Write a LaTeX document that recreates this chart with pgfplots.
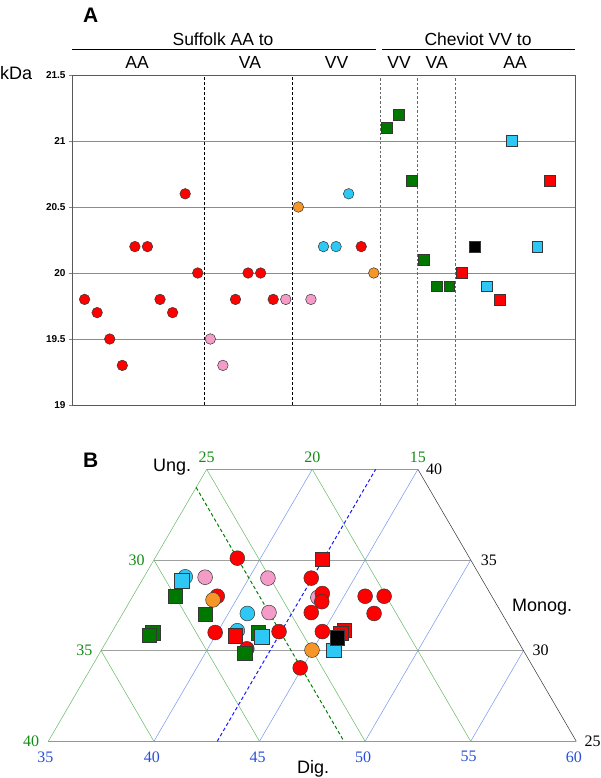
\documentclass[border=0pt]{standalone}
\usepackage{pgfplots}
\pgfplotsset{compat=1.18}
\usepackage{pgfplotstable}
\usepackage{fontspec}
\setmainfont{Liberation Sans}
\newfontfamily\sernum{Liberation Serif}

\definecolor{cred}{RGB}{255,0,0}
\definecolor{cpink}{RGB}{245,155,200}
\definecolor{ccyan}{RGB}{45,200,245}
\definecolor{corange}{RGB}{247,150,40}
\definecolor{cgreen}{RGB}{0,120,0}
\definecolor{cedge}{RGB}{55,55,55}
\definecolor{gline}{RGB}{100,185,100}
\definecolor{bline}{RGB}{115,150,240}
\definecolor{glab}{RGB}{20,140,20}
\definecolor{blab}{RGB}{40,80,215}

% Panel A: index, kDa
\pgfplotstableread{
x y
1 19.8
2 19.7
3 19.5
4 19.3
5 20.2
6 20.2
7 19.8
8 19.7
9 20.6
10 20.0
13 19.8
14 20.0
15 20.0
16 19.8
23 20.2
}\Ared
\pgfplotstableread{
x y
11 19.5
12 19.3
17 19.8
19 19.8
}\Apink
\pgfplotstableread{
x y
18 20.5
24 20.0
}\Aorange
\pgfplotstableread{
x y
20 20.2
21 20.2
22 20.6
}\Acyan
\pgfplotstableread{
x y
25 21.1
26 21.2
27 20.7
28 20.1
29 19.9
30 19.9
}\Agreensq
\pgfplotstableread{
x y
31 20.0
34 19.8
38 20.7
}\Aredsq
\pgfplotstableread{
x y
32 20.2
}\Ablacksq
\pgfplotstableread{
x y
33 19.9
35 21.0
37 20.2
}\Acyansq

% Panel B: Dig., Monog. (Ung. = 100 - Dig. - Monog.)
\pgfplotstableread{
D M
38.9 35.1
39.0 33.0
39.9 31.0
42.9 31.05
41.85 30.1
42.95 34.0
43.9 33.15
44.1 32.7
43.9 32.1
46.0 33.0
46.9 33.0
46.9 32.05
44.95 31.05
44.9 29.05
}\Bred
\pgfplotstableread{
D M
37.9 34.05
40.9 34.0
41.9 32.1
43.8 32.93
}\Bpink
\pgfplotstableread{
D M
36.95 34.07
40.9 32.05
40.9 31.1
}\Bcyan
\pgfplotstableread{
D M
38.9 32.8
44.97 30.03
}\Borange
\pgfplotstableread{
D M
37.0 33.0
38.93 32.0
36.95 30.98
36.85 30.85
41.95 30.98
41.87 29.85
}\Bgreensq
\pgfplotstableread{
D M
40.94 30.82
42.95 35.03
45.94 31.13
45.88 30.95
}\Bredsq
\pgfplotstableread{
D M
36.9 33.85
42.23 30.76
46.0 30.03
}\Bcyansq
\pgfplotstableread{
D M
45.84 30.71
}\Bblacksq

\pgfplotsset{
  mk/.style={only marks, mark options={draw=cedge, line width=0.5pt, fill=#1}},
}

\begin{document}
\begin{tikzpicture}
\path[use as bounding box] (0pt,0pt) rectangle (600pt,-778pt);

% ---------------- Panel A ----------------
\begin{axis}[
  at={(72pt,-405pt)}, anchor=south west,
  scale only axis, width=503pt, height=330pt,
  xmin=0, xmax=40, ymin=19, ymax=21.5,
  xtick=\empty, ytick={19,19.5,20,20.5,21,21.5},
  ymajorgrids, grid style={gray!90, line width=0.7pt},
  axis line style={gray!70!black, line width=0.8pt},
  ytick pos=left, tick align=outside, major tick length=3pt,
  tick style={gray, line width=0.6pt},
  yticklabel style={font=\fontsize{10}{12}\selectfont\bfseries},
  /pgf/number format/assume math mode=true,
  clip=false]
\addplot[black, dash pattern=on 3pt off 2pt, line width=0.6pt] coordinates {(10.5,19) (10.5,21.5)};
\addplot[black, dash pattern=on 3pt off 2pt, line width=0.6pt] coordinates {(17.5,19) (17.5,21.5)};
\addplot[gray!80!black, dash pattern=on 2.5pt off 2pt, line width=0.8pt] coordinates {(24.5,19) (24.5,21.5)};
\addplot[gray!80!black, dash pattern=on 2.5pt off 2pt, line width=0.8pt] coordinates {(27.5,19) (27.5,21.5)};
\addplot[gray!80!black, dash pattern=on 2.5pt off 2pt, line width=0.8pt] coordinates {(30.5,19) (30.5,21.5)};
\addplot[mk=cred, mark=*, mark size=5.3pt] table {\Ared};
\addplot[mk=cpink, mark=*, mark size=5.3pt] table {\Apink};
\addplot[mk=corange, mark=*, mark size=5.3pt] table {\Aorange};
\addplot[mk=ccyan, mark=*, mark size=5.3pt] table {\Acyan};
\addplot[mk=cgreen, mark=square*, mark size=5.4pt] table {\Agreensq};
\addplot[mk=cred, mark=square*, mark size=5.4pt] table {\Aredsq};
\addplot[mk=black, mark=square*, mark size=5.4pt] table {\Ablacksq};
\addplot[mk=ccyan, mark=square*, mark size=5.4pt] table {\Acyansq};
\end{axis}

\node[anchor=base west, inner sep=0pt, font=\fontsize{21}{24}\selectfont\bfseries] at (83pt,-22.7pt) {A};
\node[anchor=base west, inner sep=0pt, font=\fontsize{18}{20}\selectfont] at (0pt,-80pt) {kDa};
\draw[black, line width=1pt] (72pt,-50pt) -- (376pt,-50pt);
\draw[black, line width=1pt] (382pt,-50pt) -- (575pt,-50pt);
\begin{scope}[every node/.style={anchor=base, inner sep=0pt, font=\fontsize{17.5}{20}\selectfont}]
\node at (223pt,-45.5pt) {Suffolk AA to};
\node at (478pt,-45.5pt) {Cheviot VV to};
\node at (137pt,-69pt) {AA};
\node at (250pt,-69pt) {VA};
\node at (336.5pt,-69pt) {VV};
\node at (399pt,-69pt) {VV};
\node at (436.7pt,-69pt) {VA};
\node at (515pt,-69pt) {AA};
\end{scope}

% ---------------- Panel B ----------------
\begin{axis}[
  at={(48.3pt,-741.3pt)}, anchor=south west,
  scale only axis, width=528pt, height=272pt,
  xmin=0, xmax=25, ymin=0, ymax=12.990,
  hide axis, clip=false]
% Monog. = const (horizontal)
\addplot[gray!75, line width=0.8pt] coordinates {(2.5,4.330) (22.5,4.330)};
\addplot[gray!75, line width=0.8pt] coordinates {(5,8.660) (20,8.660)};
% Dig. = const
\addplot[bline, line width=0.5pt] coordinates {(0,0) (25,0)};
\addplot[bline, line width=0.5pt] coordinates {(5,0) (12.5,12.990)};
\addplot[bline, line width=0.5pt] coordinates {(10,0) (17.5,12.990)};
\addplot[bline, line width=0.5pt] coordinates {(15,0) (20,8.660)};
\addplot[bline, line width=0.5pt] coordinates {(20,0) (22.5,4.330)};
% Ung. = const
\addplot[gline, line width=0.5pt] coordinates {(0,0) (7.5,12.990)};
\addplot[gline, line width=0.5pt] coordinates {(7.5,12.990) (17.5,12.990)};
\addplot[gline, line width=0.5pt] coordinates {(2.5,4.330) (5,0)};
\addplot[gline, line width=0.5pt] coordinates {(5,8.660) (10,0)};
\addplot[gline, line width=0.5pt] coordinates {(7.5,12.990) (15,0)};
\addplot[gline, line width=0.5pt] coordinates {(12.5,12.990) (20,0)};
\addplot[gray!40!black, line width=0.5pt] coordinates {(17.5,12.990) (25,0)};
% dashed: Ung. = 26 and Dig. = 43
\addplot[green!50!black, line width=1pt, dash pattern=on 3.5pt off 2.5pt] coordinates {(7,12.124) (14,0)};
\addplot[blue!90, line width=1pt, dash pattern=on 3.5pt off 2.5pt] coordinates {(8,0) (15.5,12.990)};

\addplot[mk=cpink, mark=*, mark size=7.4pt] table[x expr=\thisrow{D}-35+0.5*(\thisrow{M}-25), y expr=0.866025*(\thisrow{M}-25)] {\Bpink};
\addplot[mk=ccyan, mark=*, mark size=7.4pt] table[x expr=\thisrow{D}-35+0.5*(\thisrow{M}-25), y expr=0.866025*(\thisrow{M}-25)] {\Bcyan};
\addplot[mk=cred, mark=*, mark size=7.4pt] table[x expr=\thisrow{D}-35+0.5*(\thisrow{M}-25), y expr=0.866025*(\thisrow{M}-25)] {\Bred};
\addplot[mk=corange, mark=*, mark size=7.4pt] table[x expr=\thisrow{D}-35+0.5*(\thisrow{M}-25), y expr=0.866025*(\thisrow{M}-25)] {\Borange};
\addplot[mk=cgreen, mark=square*, mark size=7.2pt] table[x expr=\thisrow{D}-35+0.5*(\thisrow{M}-25), y expr=0.866025*(\thisrow{M}-25)] {\Bgreensq};
\addplot[mk=cred, mark=square*, mark size=7.2pt] table[x expr=\thisrow{D}-35+0.5*(\thisrow{M}-25), y expr=0.866025*(\thisrow{M}-25)] {\Bredsq};
\addplot[mk=ccyan, mark=square*, mark size=7.2pt] table[x expr=\thisrow{D}-35+0.5*(\thisrow{M}-25), y expr=0.866025*(\thisrow{M}-25)] {\Bcyansq};
\addplot[mk=black, mark=square*, mark size=7.2pt] table[x expr=\thisrow{D}-35+0.5*(\thisrow{M}-25), y expr=0.866025*(\thisrow{M}-25)] {\Bblacksq};

% tick labels
\begin{scope}[every node/.style={font=\fontsize{16}{18}\selectfont\sernum, inner sep=0pt}]
\node[glab, anchor=south] at (axis cs:7.5,12.990) [yshift=6pt] {25};
\node[glab, anchor=south] at (axis cs:12.5,12.990) [yshift=6pt] {20};
\node[glab, anchor=south] at (axis cs:17.5,12.990) [yshift=6pt] {15};
\node[glab, anchor=east] at (axis cs:5,8.660) [xshift=-9pt] {30};
\node[glab, anchor=east] at (axis cs:2.5,4.330) [xshift=-8.5pt] {35};
\node[glab, anchor=east] at (axis cs:0,0) [xshift=-9pt] {40};
\node[black, anchor=west] at (axis cs:17.5,12.990) [xshift=8pt] {40};
\node[black, anchor=west] at (axis cs:20,8.660) [xshift=10pt] {35};
\node[black, anchor=west] at (axis cs:22.5,4.330) [xshift=9pt] {30};
\node[black, anchor=west] at (axis cs:25,0) [xshift=8pt] {25};
\node[blab, anchor=north] at (axis cs:0,0) [yshift=-10pt, xshift=-3pt] {35};
\node[blab, anchor=north] at (axis cs:5,0) [yshift=-10pt, xshift=-2pt] {40};
\node[blab, anchor=north] at (axis cs:10,0) [yshift=-10pt, xshift=-2pt] {45};
\node[blab, anchor=north] at (axis cs:15,0) [yshift=-10pt, xshift=-2pt] {50};
\node[blab, anchor=north] at (axis cs:20,0) [yshift=-10pt, xshift=-2pt] {55};
\node[blab, anchor=north] at (axis cs:25,0) [yshift=-10pt, xshift=-2.5pt] {60};
\end{scope}
\end{axis}

\node[anchor=base west, inner sep=0pt, font=\fontsize{21}{24}\selectfont\bfseries] at (83pt,-467pt) {B};
\begin{scope}[every node/.style={anchor=base west, inner sep=0pt, font=\fontsize{18}{20}\selectfont}]
\node at (153pt,-471pt) {Ung.};
\node at (512pt,-611pt) {Monog.};
\node at (297pt,-773pt) {Dig.};
\end{scope}
\end{tikzpicture}
\end{document}
